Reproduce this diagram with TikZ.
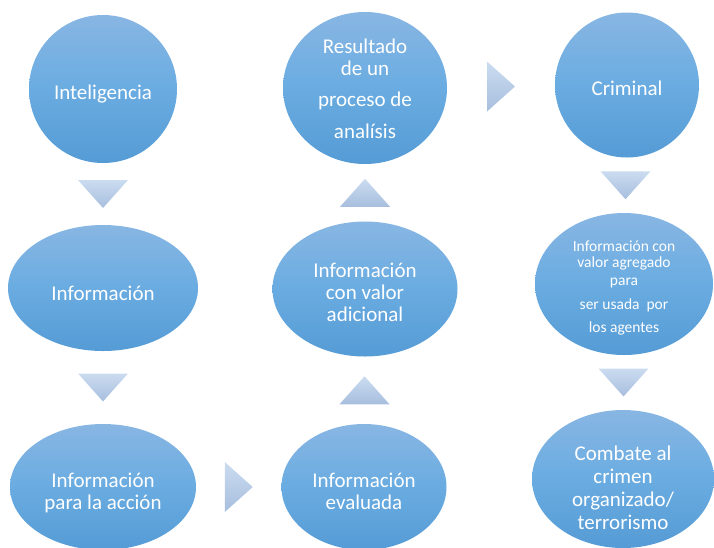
\documentclass[tikz,border=0pt]{standalone}
\usepackage{fontspec}
\setmainfont{Carlito}
\usetikzlibrary{shapes.geometric,calc}
\definecolor{globoarriba}{RGB}{136,182,227}
\definecolor{globomedio}{RGB}{106,172,225}
\definecolor{globoabajo}{RGB}{85,155,213}
\definecolor{flechaarriba}{RGB}{203,220,240}
\definecolor{flechaabajo}{RGB}{167,190,222}

\begin{document}
\begin{tikzpicture}[x=1pt, y=-1pt,
		globo/.style={ellipse, inner sep=0pt, top color=globoarriba, bottom color=globoabajo, middle color=globomedio},
		texto/.style={text=white, align=center, inner sep=0pt, font=\fontsize{21}{22}\selectfont},
		flecha/.style={top color=flechaarriba, bottom color=flechaabajo},
		pics/abajo/.style={code={\shade[flecha] (-25,-14) -- (25,-14) -- (0,14) -- cycle;}},
		pics/arriba/.style={code={\shade[flecha] (-25,14) -- (25,14) -- (0,-14) -- cycle;}},
		pics/derecha/.style={code={\shade[flecha] (-14,-25) -- (-14,25) -- (14,0) -- cycle;}}]
		\useasboundingbox (0,0) rectangle (714,547);
		\clip (0,0) rectangle (714,547);
		\node[globo, minimum width=148, minimum height=148, label={[texto, yshift=-5pt]center:Inteligencia}] (intel) at (103,89) {};
		\node[globo, minimum width=190, minimum height=126, label={[texto, yshift=-5pt]center:Información}] (info) at (103,288) {};
		\node[globo, minimum width=186, minimum height=126, label={[texto, yshift=-6pt]center:Información\\para la acción}] (accion) at (103,487) {};
		\node[globo, minimum width=165, minimum height=126, label={[texto, yshift=-4pt]center:Información\\evaluada}] (evaluada) at (364,487) {};
		\node[globo, minimum width=185, minimum height=135, label={[texto, yshift=-3pt]center:Información\\con valor\\adicional}] (adicional) at (365,289) {};
		\node[globo, minimum width=164, minimum height=152, label={[texto, yshift=-1pt]center:Resultado\\de un\\[9pt]proceso de\\[10pt]analísis}] (resultado) at (365,88) {};
		\node[globo, minimum width=144, minimum height=145, label={[texto, yshift=-3pt]center:Criminal}] (criminal) at (627,85) {};
		\node[globo, minimum width=178, minimum height=142, label={[texto, yshift=-4pt, font=\fontsize{15.5}{15.5}\selectfont]center:Información con\\valor agregado\\[3pt]para\\[8pt]ser usada~ por\\[8pt]los agentes}] (agregado) at (624,284) {};
		\node[globo, minimum width=182, minimum height=138, label={[texto, yshift=-9pt, font=\fontsize{21}{23}\selectfont]center:Combate al\\crimen\\organizado/\\terrorismo}] (combate) at (623,479) {};
		\pic at ($(intel.south)!0.5!(info.north)$) {abajo};
		\pic at ($(info.south)!0.5!(accion.north)$) {abajo};
		\pic at ($(accion.east)!0.5!(evaluada.west)$) {derecha};
		\pic at ($(evaluada.north)!0.5!(adicional.south)$) {arriba};
		\pic at ($(adicional.north)!0.5!(resultado.south)$) {arriba};
		\pic at ($(resultado.east)!0.5!(criminal.west)$) {derecha};
		\pic at ($(criminal.south)!0.5!(agregado.north)$) {abajo};
		\pic at ($(agregado.south)!0.5!(combate.north)$) {abajo};
	\end{tikzpicture}
\end{document}
